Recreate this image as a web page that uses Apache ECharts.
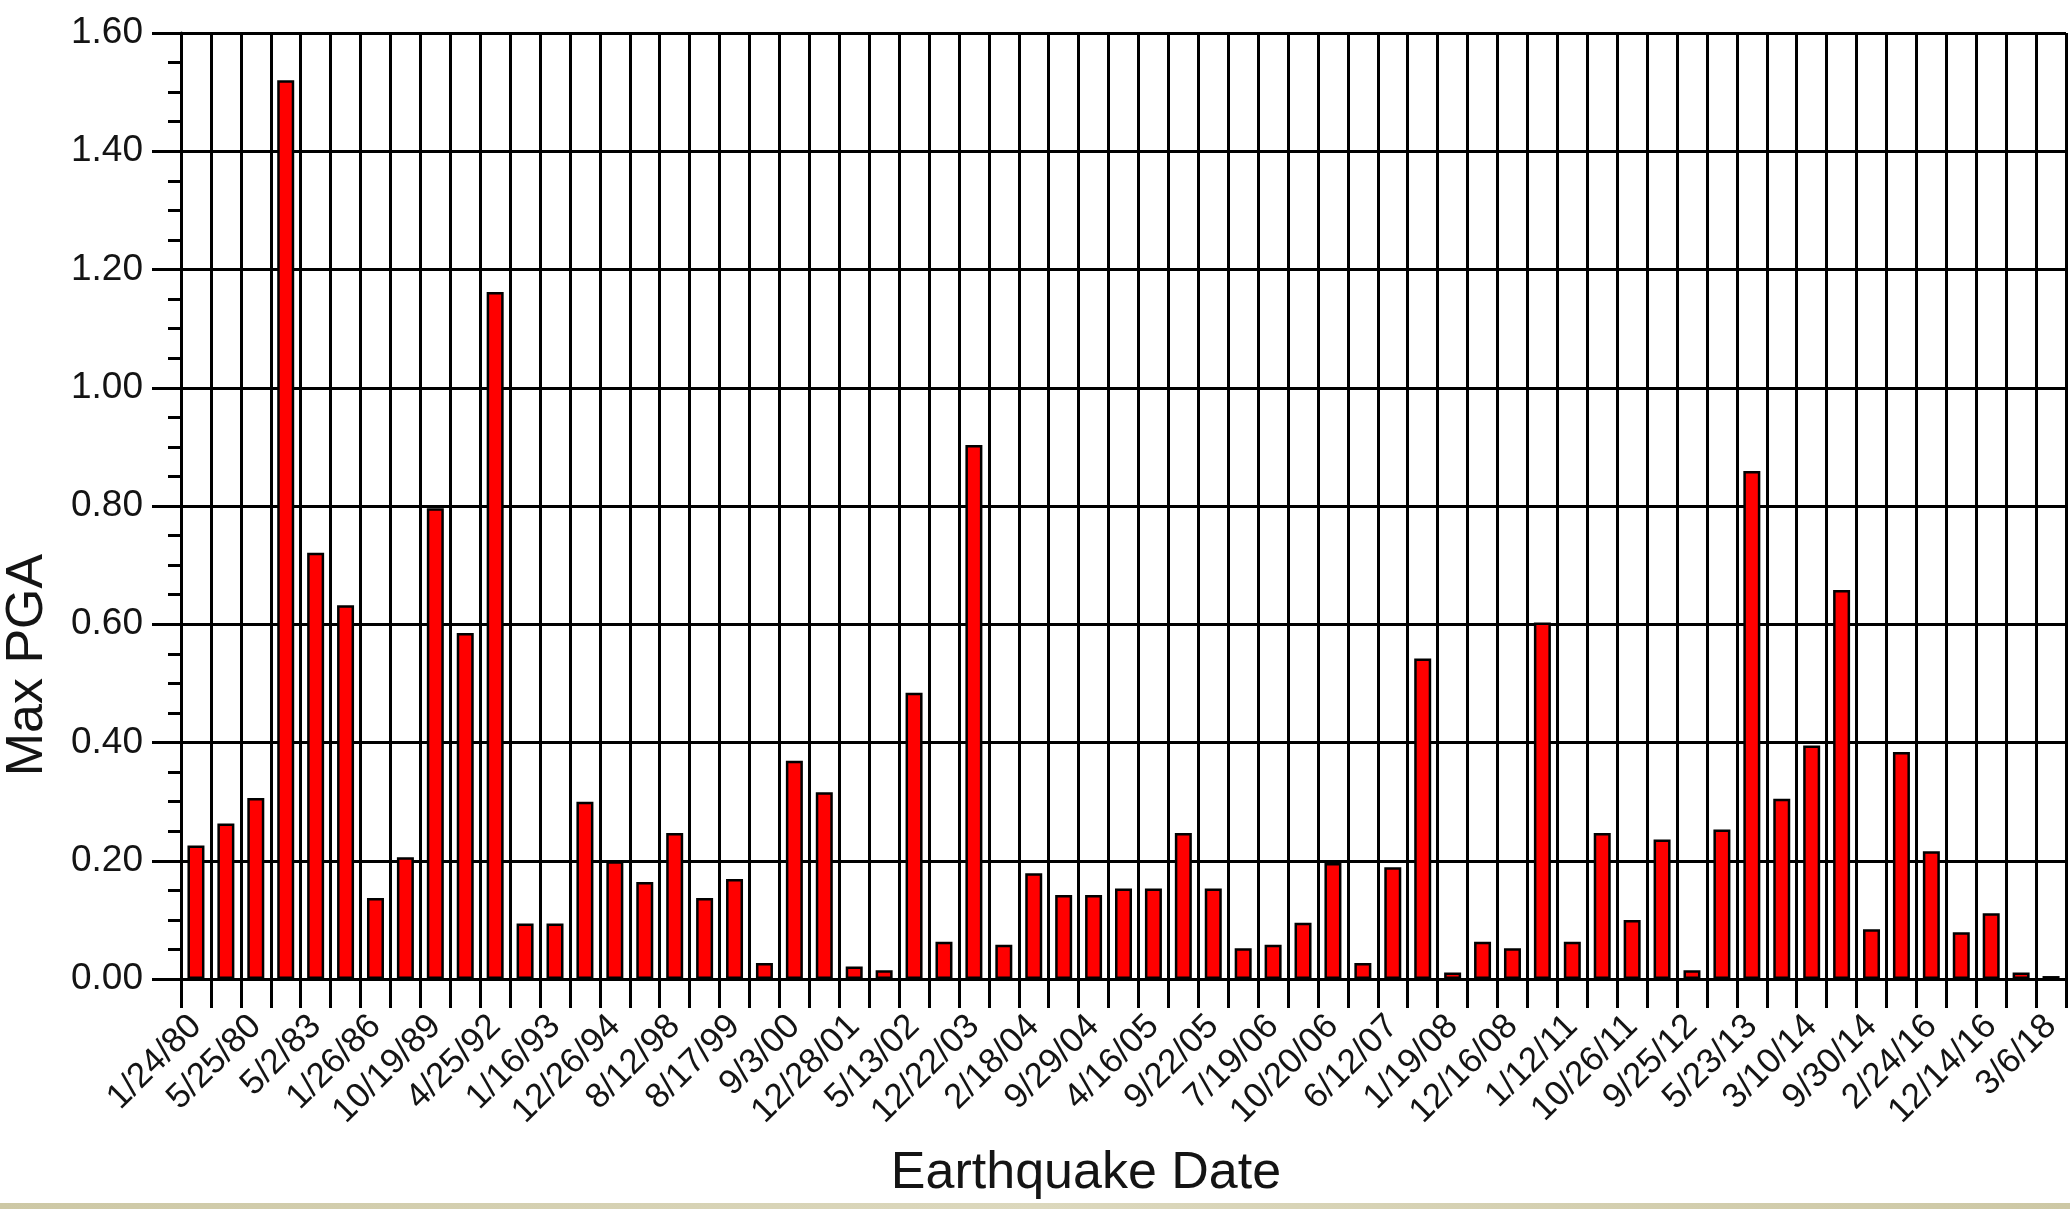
<!DOCTYPE html>
<html>
<head>
<meta charset="utf-8">
<script src="https://cdn.jsdelivr.net/npm/echarts@6/dist/echarts.min.js"></script>
<style>
  html, body { margin: 0; padding: 0; background: #ffffff; }
  #chart { width: 2070px; height: 1209px; }
</style>
</head>
<body>
<div id="chart"></div>
<script>
// Event dates; every other event carries a printed label, the rest stay blank.
const dates = [
  '1/24/80', '', '5/25/80', '', '5/2/83', '', '1/26/86', '', '10/19/89', '',
  '4/25/92', '', '1/16/93', '', '12/26/94', '', '8/12/98', '', '8/17/99', '',
  '9/3/00', '', '12/28/01', '', '5/13/02', '', '12/22/03', '', '2/18/04', '',
  '9/29/04', '', '4/16/05', '', '9/22/05', '', '7/19/06', '', '10/20/06', '',
  '6/12/07', '', '1/19/08', '', '12/16/08', '', '1/12/11', '', '10/26/11', '',
  '9/25/12', '', '5/23/13', '', '3/10/14', '', '9/30/14', '', '2/24/16', '',
  '12/14/16', '', '3/6/18'
];

// Maximum peak ground acceleration (g) recorded for each event.
const maxPGA = [
  0.226, 0.263, 0.306, 1.520, 0.721, 0.632, 0.137, 0.206, 0.796, 0.585,
  1.162, 0.094, 0.094, 0.300, 0.199, 0.164, 0.247, 0.137, 0.169, 0.027,
  0.369, 0.316, 0.021, 0.015, 0.484, 0.063, 0.903, 0.058, 0.179, 0.142,
  0.142, 0.153, 0.153, 0.247, 0.153, 0.052, 0.058, 0.095, 0.196, 0.027,
  0.189, 0.542, 0.011, 0.063, 0.052, 0.603, 0.063, 0.247, 0.100, 0.236,
  0.015, 0.253, 0.859, 0.305, 0.395, 0.658, 0.084, 0.384, 0.216, 0.079,
  0.111, 0.011, 0.005
];

// Value axis range and step
const yMin = 0;
const yMax = 1.6;
const yStep = 0.2;

const xTitle = 'Earthquake Date';
const yTitle = 'Max PGA';

const FONT = '"Liberation Sans", Arial, Helvetica, sans-serif';
const INK = '#141414';
const LINE_W = 3;

const chart = echarts.init(document.getElementById('chart'), null, { renderer: 'canvas' });

chart.setOption({
  backgroundColor: '#ffffff',
  animation: false,
  grid: { left: 181, right: 4, top: 33, bottom: 230, containLabel: false },
  xAxis: {
    type: 'category',
    data: dates,
    boundaryGap: true,
    axisLine: { show: true, lineStyle: { color: '#000', width: LINE_W } },
    axisTick: { show: true, interval: 0, length: 29, lineStyle: { color: '#000', width: LINE_W } },
    splitLine: { show: true, interval: 0, lineStyle: { color: '#000', width: LINE_W } },
    axisLabel: {
      interval: 0,
      rotate: 45,
      margin: 42,
      color: INK,
      fontFamily: FONT,
      fontSize: 35
    }
  },
  yAxis: {
    type: 'value',
    min: yMin,
    max: yMax,
    interval: yStep,
    axisLine: { show: true, lineStyle: { color: '#000', width: LINE_W } },
    axisTick: { show: true, length: 29, lineStyle: { color: '#000', width: LINE_W } },
    minorTick: { show: true, splitNumber: 4, length: 13, lineStyle: { color: '#000', width: LINE_W } },
    splitLine: { show: true, lineStyle: { color: '#000', width: LINE_W } },
    axisLabel: {
      margin: 38,
      color: INK,
      fontFamily: FONT,
      fontSize: 37,
      formatter: v => v.toFixed(2)
    }
  },
  series: [{
    type: 'bar',
    data: maxPGA,
    barWidth: 17,
    itemStyle: { color: '#ff0000', borderColor: '#000', borderWidth: 2.5 },
    z: 3
  }],
  graphic: [
    {
      type: 'text',
      x: 28, y: 665,
      rotation: Math.PI / 2,
      style: {
        text: yTitle,
        font: '52px ' + FONT,
        fill: INK,
        textAlign: 'center',
        textVerticalAlign: 'middle'
      }
    },
    {
      type: 'text',
      x: 1086, y: 1174,
      style: {
        text: xTitle,
        font: '52px ' + FONT,
        fill: INK,
        textAlign: 'center',
        textVerticalAlign: 'middle'
      }
    },
    {
      // slide footer band along the bottom edge
      type: 'rect',
      shape: { x: 0, y: 1203, width: 2070, height: 6 },
      style: {
        fill: new echarts.graphic.LinearGradient(0, 0, 1, 0, [
          { offset: 0, color: '#cdc8a5' },
          { offset: 0.5, color: '#dcd8bd' },
          { offset: 1, color: '#cdc8a5' }
        ])
      },
      silent: true
    }
  ]
});
</script>
</body>
</html>
